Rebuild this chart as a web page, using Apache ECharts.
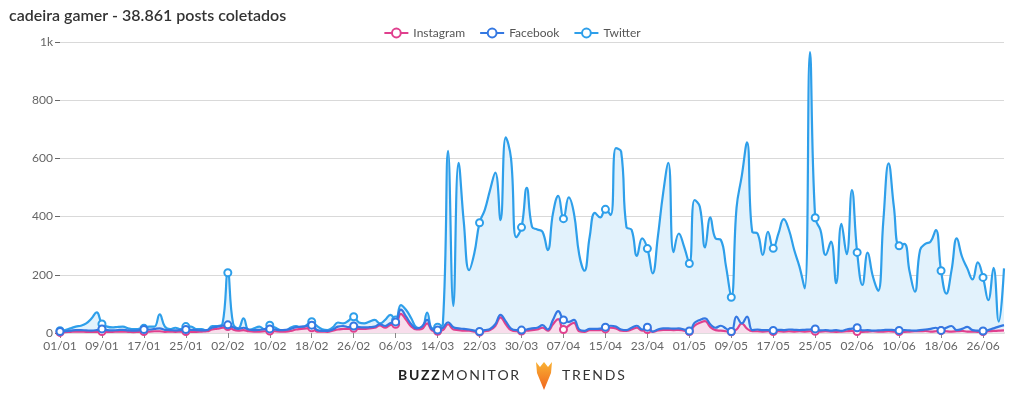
<!DOCTYPE html>
<html>
<head>
<meta charset="utf-8">
<script src="https://cdn.jsdelivr.net/npm/echarts@6/dist/echarts.min.js"></script>
<style>
  html, body { margin: 0; padding: 0; background: #fff; }
  #chart { width: 1024px; height: 398px; }
</style>
</head>
<body>
<div id="chart"></div>
<script>
// daily posts, 01/01 .. 30/06
const twitter = [
  8, 10, 16, 22, 25, 33, 50, 71, 31, 22,
  19, 21, 22, 16, 13, 14, 16, 22, 22, 64,
  22, 13, 18, 13, 22, 22, 13, 13, 8, 24,
  24, 33, 207, 33, 16, 50, 10, 16, 22, 13,
  27, 19, 10, 8, 19, 24, 16, 27, 39, 24,
  13, 10, 19, 36, 33, 42, 56, 36, 33, 39,
  45, 33, 45, 62, 45, 96, 79, 50, 19, 16,
  70, 16, 20, 30, 626, 93, 585, 380, 216, 274,
  379, 423, 491, 551, 388, 672, 600, 329, 363, 499,
  365, 356, 348, 285, 411, 471, 393, 466, 411, 270,
  214, 331, 413, 397, 425, 405, 635, 623, 365, 354,
  265, 325, 290, 205, 331, 480, 585, 278, 342, 297,
  239, 457, 434, 294, 397, 325, 320, 228, 123, 430,
  540, 655, 348, 342, 268, 348, 291, 342, 391, 354,
  285, 228, 153, 965, 396, 354, 268, 314, 171, 375,
  271, 491, 277, 165, 276, 194, 145, 388, 583, 434,
  300, 306, 211, 142, 285, 306, 314, 354, 214, 135,
  216, 325, 262, 222, 184, 243, 191, 113, 224, 39,
  222
];
const facebook = [
  5, 6, 8, 10, 10, 9, 8, 10, 14, 10,
  9, 10, 11, 9, 8, 9, 12, 12, 14, 16,
  11, 10, 9, 10, 12, 11, 10, 9, 10, 18,
  22, 25, 28, 20, 14, 18, 12, 10, 11, 13,
  14, 12, 10, 11, 14, 20, 22, 24, 27, 10,
  7, 7, 12, 22, 24, 20, 24, 20, 19, 20,
  22, 30, 24, 34, 38, 80, 56, 30, 16, 22,
  45, 12, 10, 18, 37, 20, 16, 14, 12, 8,
  5, 10, 14, 30, 62, 40, 15, 10, 10, 12,
  16, 18, 27, 12, 45, 75, 45, 38, 45, 12,
  7, 14, 14, 15, 20, 25, 22, 12, 10, 18,
  25, 12, 20, 5, 12, 16, 16, 15, 16, 12,
  7, 35, 45, 50, 30, 18, 25, 15, 5, 56,
  33, 56, 10, 12, 10, 10, 9, 11, 10, 12,
  11, 10, 11, 12, 14, 9, 10, 8, 10, 7,
  12, 15, 18, 9, 10, 8, 9, 10, 11, 10,
  9, 10, 9, 8, 10, 12, 14, 18, 9, 18,
  24, 10, 14, 21, 10, 8, 7, 10, 16, 22,
  27
];
const instagram = [
  2, 3, 4, 5, 5, 4, 4, 4, 5, 4,
  4, 5, 5, 4, 3, 4, 5, 5, 6, 6,
  4, 5, 4, 5, 5, 4, 4, 5, 6, 12,
  15, 18, 22, 12, 8, 10, 6, 5, 5, 6,
  7, 6, 5, 5, 7, 12, 14, 16, 18, 5,
  5, 4, 8, 12, 14, 14, 16, 14, 14, 16,
  18, 26, 18, 28, 30, 66, 45, 22, 12, 14,
  33, 8, 6, 10, 30, 12, 10, 8, 8, 5,
  3, 6, 10, 24, 54, 30, 10, 6, 7, 8,
  10, 12, 18, 8, 30, 48, 12, 25, 35, 6,
  4, 10, 10, 10, 14, 18, 16, 8, 7, 12,
  18, 8, 12, 4, 9, 11, 11, 10, 11, 8,
  5, 25, 35, 41, 20, 10, 8, 6, 4, 12,
  33, 15, 6, 6, 5, 6, 5, 6, 5, 6,
  5, 6, 5, 6, 6, 5, 6, 5, 4, 5,
  6, 7, 5, 4, 5, 6, 5, 5, 6, 5,
  5, 4, 5, 6, 6, 7, 5, 6, 8, 6,
  5, 6, 7, 5, 5, 4, 5, 6, 7, 8,
  9
];

// category labels dd/mm, one per day
const days = [];
for (let d = new Date(Date.UTC(2021, 0, 1)); days.length < twitter.length; d.setUTCDate(d.getUTCDate() + 1)) {
  const dd = String(d.getUTCDate()).padStart(2, "0");
  const mm = String(d.getUTCMonth() + 1).padStart(2, "0");
  days.push(dd + "/" + mm);
}

const LABEL_EVERY = 8;
const font = "Lato, 'Open Sans', sans-serif";

function lineSeries(name, data, color, area, z) {
  return {
    name, type: "line", data, z,
    smooth: 0.45,
    symbol: "emptyCircle",
    showAllSymbol: true,
    symbolSize: (v, p) => (p.dataIndex % LABEL_EVERY === 0 ? 7 : 0),
    itemStyle: { color, borderWidth: 1.5 },
    lineStyle: { color, width: 2.2 },
    areaStyle: area ? { color: area, opacity: 1 } : undefined,
    emphasis: { disabled: true },
  };
}

const chart = echarts.init(document.getElementById("chart"), null, { renderer: "canvas" });
chart.setOption({
  animation: false,
  backgroundColor: "#fff",
  textStyle: { fontFamily: font },
  title: {
    text: "cadeira gamer - 38.861 posts coletados",
    left: 4, top: 3,
    textStyle: { fontSize: 16, fontWeight: 600, color: "#333", fontFamily: font },
  },
  legend: {
    data: ["Instagram", "Facebook", "Twitter"],
    top: 22, left: "center",
    itemWidth: 24, itemHeight: 11, itemGap: 14,
    textStyle: { fontSize: 12, color: "#555", fontFamily: font },
  },
  grid: { left: 60, right: 20, top: 42, bottom: 65 },
  xAxis: {
    type: "category",
    data: days,
    boundaryGap: false,
    axisLine: { lineStyle: { color: "#ddd", width: 2 } },
    axisTick: { interval: LABEL_EVERY - 1, length: 5, lineStyle: { color: "#888" } },
    axisLabel: { interval: LABEL_EVERY - 1, color: "#666", fontSize: 12, margin: 7, fontFamily: font },
  },
  yAxis: {
    type: "value",
    min: 0, max: 1000, interval: 200,
    axisLine: { show: false },
    axisTick: { show: true, length: 5, lineStyle: { color: "#666" } },
    axisLabel: {
      color: "#666", fontSize: 12, margin: 7, fontFamily: font,
      formatter: (v) => (v >= 1000 ? v / 1000 + "k" : String(v)),
    },
    splitLine: { lineStyle: { color: "#d9d9d9" } },
  },
  series: [
    lineSeries("Twitter", twitter, "#2E9FEA", "#E2F2FC", 2),
    lineSeries("Instagram", instagram, "#E0408E", "#F8DEEC", 3),
    lineSeries("Facebook", facebook, "#3478E2", null, 4),
  ],
  graphic: [
    {
      type: "text", left: 398, top: 368,
      style: {
        text: "{b|B\u2009U\u2009Z\u2009Z\u2009}{r|M\u2009O\u2009N\u2009I\u2009T\u2009O\u2009R}",
        rich: {
          b: { fontSize: 14, fontWeight: "bold", fill: "#222", fontFamily: font },
          r: { fontSize: 14, fill: "#333", fontFamily: font },
        },
      },
    },
    {
      type: "polygon",
      shape: { points: [[536, 362], [540, 367], [544, 362], [548, 367], [552, 362], [551, 373], [544, 390], [537, 373]] },
      style: {
        fill: new echarts.graphic.LinearGradient(0, 0, 0, 1, [
          { offset: 0, color: "#F9B233" },
          { offset: 1, color: "#F0641E" },
        ]),
      },
    },
    {
      type: "text", left: 562, top: 368,
      style: { text: "T\u2009R\u2009E\u2009N\u2009D\u2009S", fontSize: 14, fill: "#333", fontFamily: font },
    },
  ],
});
</script>
</body>
</html>
